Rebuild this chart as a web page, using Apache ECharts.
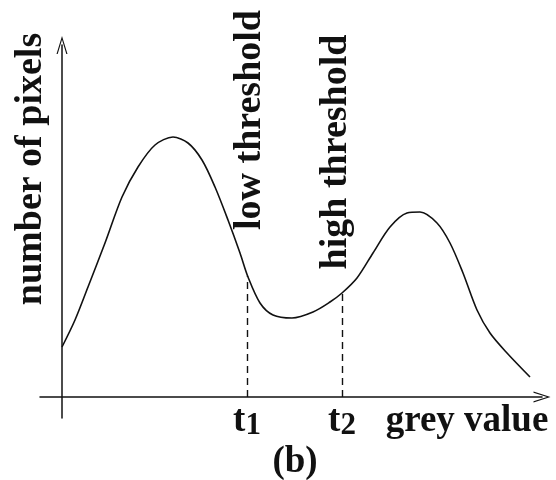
<!DOCTYPE html>
<html>
<head>
    <meta charset="utf-8">
    <script src="https://cdn.jsdelivr.net/npm/echarts@6/dist/echarts.min.js"></script>
</head>
<body style="margin:0;background:#fff;">
    <div id="main" style="width:556px;height:480px;"></div>
    <script type="text/javascript">
        var myChart = echarts.init(document.getElementById('main'));

        // histogram curve (grey value, number of pixels)
        var greyValues = [0, 13, 26, 43, 60, 76, 93, 111, 126, 140, 153, 166, 178, 186, 198, 211,
                          230, 251, 268, 280, 295, 311, 328, 345, 358, 375, 388, 401, 415, 428, 445, 468];
        var pixelCounts = [50, 77, 110, 154, 200, 230, 252, 260, 254, 237, 210, 177, 144, 120, 94, 82,
                           79, 85, 95, 104, 119, 144, 170, 184, 185, 174, 154, 124, 87, 64, 44, 20];
        // thresholds
        var thresholdX = [185, 280];
        var thresholdY = [121, 104];
        var thresholdLabels = ['t1', 't2'];

        var serifFont = '"Liberation Serif", "DejaVu Serif", serif';
        var ink = '#111111';
        var chevronX = 'path://M0,17 L5.5,0 L11,17 L9.8,17 L5.5,3.5 L1.2,17 Z';
        var chevronY = 'path://M0,18 L5.5,0 L11,18 L9.8,18 L5.5,3.7 L1.2,18 Z';

        var curve = [];
        for (var i = 0; i < greyValues.length; i++) {
            curve.push([greyValues[i], pixelCounts[i]]);
        }
        var cuts = [];
        for (var j = 0; j < thresholdX.length; j++) {
            cuts.push([{ coord: [thresholdX[j], 0] }, { coord: [thresholdX[j], thresholdY[j]] }]);
        }

        var option = {
            backgroundColor: '#ffffff',
            animation: false,
            grid: {
                left: 40,
                right: 14,
                top: 45,
                bottom: 62,
                containLabel: false,
                outerBoundsMode: 'none'
            },
            xAxis: {
                type: 'value',
                min: -22,
                max: 480,
                axisLine: {
                    onZero: true,
                    symbol: ['none', chevronX],
                    symbolSize: [11, 17],
                    lineStyle: { color: ink, width: 1.5 }
                },
                axisTick: { show: false },
                splitLine: { show: false },
                axisLabel: {
                    customValues: thresholdX,
                    margin: -11,
                    formatter: function (v) {
                        var s = thresholdLabels[thresholdX.indexOf(v)] || '';
                        return '{t|' + s.charAt(0) + '}{s|' + s.slice(1) + '}';
                    },
                    rich: {
                        t: { fontFamily: serifFont, fontWeight: 'bold', fontSize: 37, lineHeight: 28, color: ink },
                        s: { fontFamily: serifFont, fontWeight: 'bold', fontSize: 31, lineHeight: 28, color: ink, padding: [9, 0, 0, 0] }
                    }
                }
            },
            yAxis: {
                type: 'value',
                min: -21,
                max: 352,
                axisLine: {
                    onZero: true,
                    symbol: ['none', chevronY],
                    symbolSize: [11, 18],
                    lineStyle: { color: ink, width: 1.5 }
                },
                axisTick: { show: false },
                axisLabel: { show: false },
                splitLine: { show: false }
            },
            graphic: [
                {
                    type: 'text', x: 31, y: 169, rotation: Math.PI / 2,
                    style: { text: 'number of pixels', font: 'bold 38px ' + serifFont, fill: ink, align: 'center', verticalAlign: 'middle' }
                },
                {
                    type: 'text', x: 250, y: 120, rotation: Math.PI / 2,
                    style: { text: 'low threshold', font: 'bold 38px ' + serifFont, fill: ink, align: 'center', verticalAlign: 'middle' }
                },
                {
                    type: 'text', x: 336, y: 152, rotation: Math.PI / 2,
                    style: { text: 'high threshold', font: 'bold 38px ' + serifFont, fill: ink, align: 'center', verticalAlign: 'middle' }
                },
                {
                    type: 'text', x: 467, y: 421,
                    style: { text: 'grey value', font: 'bold 37px ' + serifFont, fill: ink, align: 'center', verticalAlign: 'middle' }
                },
                {
                    type: 'text', x: 295, y: 462,
                    style: { text: '(b)', font: 'bold 37px ' + serifFont, fill: ink, align: 'center', verticalAlign: 'middle' }
                }
            ],
            series: [
                {
                    type: 'line',
                    data: curve,
                    smooth: 0.3,
                    symbol: 'none',
                    lineStyle: { color: ink, width: 1.6 },
                    markLine: {
                        silent: true,
                        symbol: 'none',
                        label: { show: false },
                        lineStyle: { color: ink, width: 1.4, type: [7, 5] },
                        data: cuts
                    }
                }
            ]
        };

        myChart.setOption(option);
    </script>
</body>
</html>
